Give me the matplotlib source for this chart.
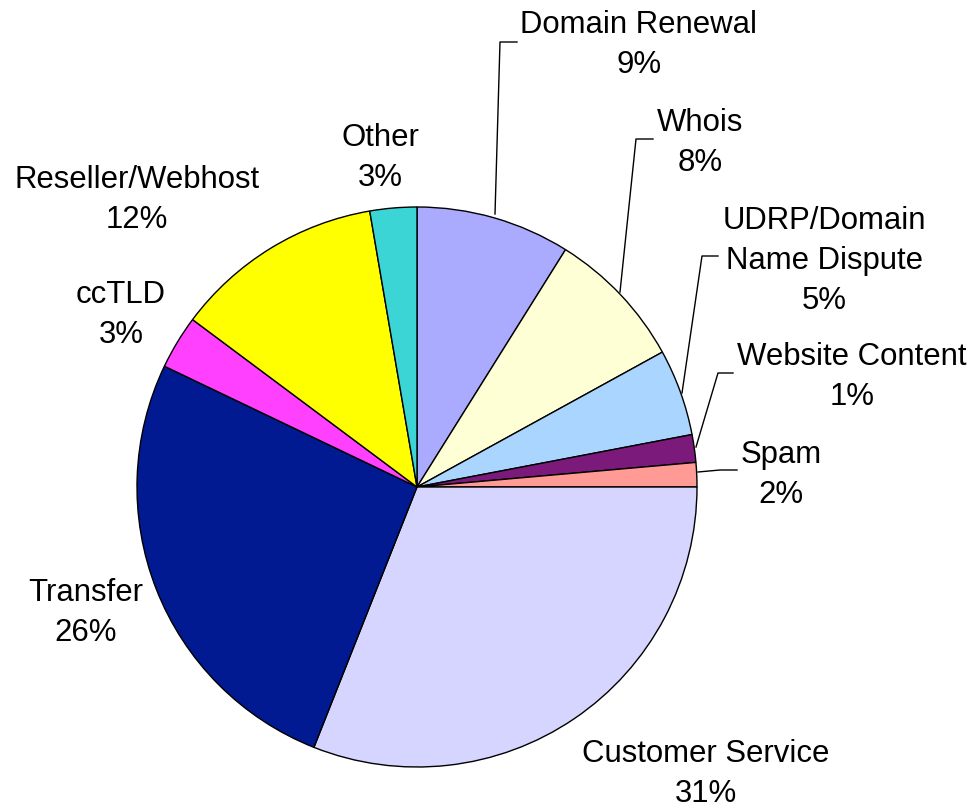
import matplotlib
matplotlib.use("Agg")
import matplotlib.pyplot as plt

categories = ["Domain Renewal", "Whois", "UDRP/Domain\nName Dispute", "Website Content",
              "Spam", "Customer Service", "Transfer", "ccTLD", "Reseller/Webhost", "Other"]
values = [8.9, 8.1, 5.0, 1.6, 1.4, 31.0, 26.1, 3.1, 12.1, 2.7]
pct_labels = ["9%", "8%", "5%", "1%", "2%", "31%", "26%", "3%", "12%", "3%"]
colors = ["#AAAAFF", "#FFFFD5", "#AAD5FF", "#7B1A7B", "#FF9A94",
          "#D5D5FF", "#021A91", "#FF40FF", "#FFFF00", "#3CD5D5"]

W, H = 973, 809
fig = plt.figure(figsize=(W / 100, H / 100), dpi=100)
ax = fig.add_axes([0, 0, 1, 1])

cx, cy, r = 417, H - 487, 280
ax.pie(values, colors=colors, startangle=90, counterclock=False,
       center=(cx, cy), radius=r, frame=True,
       wedgeprops=dict(edgecolor="black", linewidth=1.0))
ax.set_xlim(0, W)
ax.set_ylim(0, H)
ax.set_aspect("equal")
ax.axis("off")

# label centres in pixel coordinates (x, y from top)
label_pos = [(639, 45), (700, 143), (824, 261), (852, 377), (781, 475),
             (706, 774), (86, 613), (121, 315), (137, 200), (380, 158)]
for name, pct, (lx, ly) in zip(categories, pct_labels, label_pos):
    ax.text(lx, H - ly, f"{name}\n{pct}", ha="center", va="center",
            fontsize=22.4, family="Liberation Sans", linespacing=1.42)

leaders = [
    [(495, 214), (500, 42), (517, 42)],
    [(620, 292), (636, 139), (653, 139)],
    [(682, 393), (702, 256), (718, 256)],
    [(696, 447), (718, 373), (733, 373)],
    [(698, 472), (720, 470), (737, 470)],
]
for pts in leaders:
    xs = [p[0] for p in pts]
    ys = [H - p[1] for p in pts]
    ax.plot(xs, ys, color="black", linewidth=1.0)

fig.savefig("out.png", dpi=100)
